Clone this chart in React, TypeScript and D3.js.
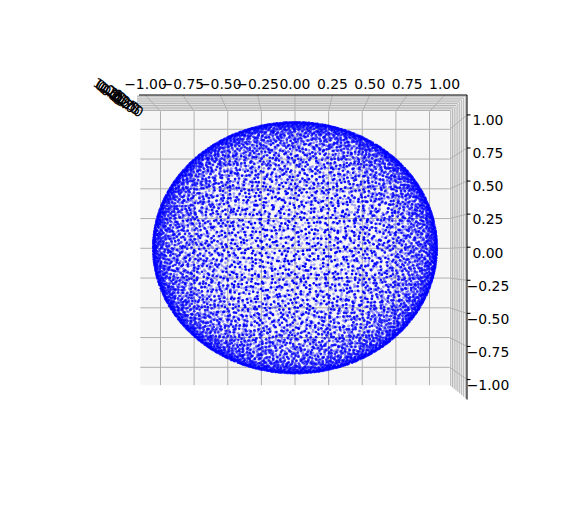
import * as d3 from 'd3';

// Tick values of the three axes (shown on the plot)
const X_TICKS = [-1, -0.75, -0.5, -0.25, 0, 0.25, 0.5, 0.75, 1];
const Y_TICKS = [-1, -0.75, -0.5, -0.25, 0, 0.25, 0.5, 0.75, 1];
const Z_TICKS = [-1, -0.75, -0.5, -0.25, 0, 0.25, 0.5, 0.75, 1];
// Axis limits (data range ±1 plus the 3d margin)
const AXIS_LIMIT = [-1.15, 1.15];
// Scatter of points on the unit sphere
const POINT_COUNT = 10000;
const POINT_COLOR = '#0000ff';

const W = 575;
const H = 509;
const L = AXIS_LIMIT[1];

// Floor (z = -L) scales, perspective grows toward the viewer (top view)
const xScale = d3.scaleLinear().domain([-1, 1]).range([160.5, 429.5]);
const yScale = d3.scaleLinear().domain([-1, 1]).range([367.3, 129.3]);
const VX = 295;
const VY = 258;
const DIST = 21.7;
const persp = (z: number) => (DIST + L) / (DIST - z);

function project(x: number, y: number, z: number): [number, number] {
  const p = persp(z);
  return [VX + (xScale(x) - VX) * p, VY + (yScale(y) - VY) * p];
}

// deterministic, evenly spread samples on the sphere surface
function halton(i: number, b: number) {
  let f = 1, r = 0;
  while (i > 0) { f /= b; r += f * (i % b); i = Math.floor(i / b); }
  return r;
}
const SPHERE = d3.range(POINT_COUNT).map(i => {
  const z = 2 * halton(i + 1, 2) - 1;
  const phi = 2 * Math.PI * halton(i + 1, 3);
  const rr = Math.sqrt(1 - z * z);
  return [rr * Math.cos(phi), rr * Math.sin(phi), z];
}).sort((a, b) => a[2] - b[2]);

const fmt = (v: number) => d3.format('.2f')(v).replace('-', '\u2212');
const poly = (pts: [number, number][]) => pts.map(p => p.join(',')).join(' ');

export default function App() {
  const grid = '#b0b0b0';
  const zExt = d3.extent(SPHERE, d => d[2]) as [number, number];
  const alpha = d3.scaleLinear().domain(zExt).range([0.3, 1]);
  // collapsed z labels: spread along a short diagonal at the top-left corner
  const zLabelX = d3.scaleLinear().domain([1, -1]).range([108, 124]);
  const zLabelY = d3.scaleLinear().domain([1, -1]).range([89, 103]);

  const lines: [number, number][][] = [];
  X_TICKS.forEach(t => {
    lines.push([project(t, -L, -L), project(t, L, -L)]);
    lines.push([project(t, L, -L), project(t, L, L)]);
  });
  Y_TICKS.forEach(t => {
    lines.push([project(-L, t, -L), project(L, t, -L)]);
    lines.push([project(L, t, -L), project(L, t, L)]);
  });
  Z_TICKS.forEach(t => {
    lines.push([project(-L, L, t), project(L, L, t)]);
    lines.push([project(L, -L, t), project(L, L, t)]);
  });

  return (
    <svg width={W} height={H} style={{ position: 'absolute', left: 0, top: 0, background: '#fff' }}
      fontFamily="DejaVu Sans" fontSize={13.9}>
      <defs>
        <clipPath id="paneclip"><rect x={137} y={0} width={W} height={H} /></clipPath>
      </defs>
      <g clipPath="url(#paneclip)">
        {/* panes */}
        <polygon points={poly([project(-L, -L, -L), project(L, -L, -L), project(L, L, -L), project(-L, L, -L)])} fill="#f6f6f6" />
        <polygon points={poly([project(-L, L, -L), project(L, L, -L), project(L, L, L), project(-L, L, L)])} fill="#f2f2f2" />
        <polygon points={poly([project(L, -L, -L), project(L, L, -L), project(L, L, L), project(L, -L, L)])} fill="#f9f9f9" />
        {lines.map((l, i) => (
          <line key={i} x1={l[0][0]} y1={l[0][1]} x2={l[1][0]} y2={l[1][1]} stroke={grid} strokeWidth={1} />
        ))}
      </g>
      {/* axis lines */}
      <line x1={project(-L, L, L)[0] + 16} y1={project(-L, L, L)[1]} x2={project(L, L, L)[0]} y2={project(L, L, L)[1]} stroke="#000" strokeWidth={1.1} />
      <line x1={project(L, L, L)[0]} y1={project(L, L, L)[1]} x2={project(L, -L, L)[0]} y2={project(L, -L, L)[1]} stroke="#000" strokeWidth={1.1} />
      {/* x tick labels */}
      {X_TICKS.map(t => (
        <text key={'x' + t} x={project(t, L, L)[0]} y={88.5} textAnchor="middle">{fmt(t)}</text>
      ))}
      {/* y ticks and labels */}
      {Y_TICKS.map(t => {
        const [px, py] = project(L, t, L);
        return (
          <g key={'y' + t}>
            <line x1={px} y1={py} x2={px + 3.5} y2={py} stroke="#000" strokeWidth={1.1} />
            <text x={488} y={py + 5.3} dy="0.36em" textAnchor="middle">{fmt(t)}</text>
          </g>
        );
      })}
      {/* z tick labels (collapsed in top view) */}
      {Z_TICKS.map(t => (
        <text key={'z' + t} transform={`translate(${zLabelX(t)},${zLabelY(t)}) rotate(30)`}
          dy="0.36em" textAnchor="middle">{fmt(t)}</text>
      ))}
      {/* scatter */}
      <g fill={POINT_COLOR}>
        {SPHERE.map((d, i) => {
          const [px, py] = project(d[0], d[1], d[2]);
          return <circle key={i} cx={px} cy={py} r={1.35} fillOpacity={alpha(d[2])} />;
        })}
      </g>
    </svg>
  );
}
